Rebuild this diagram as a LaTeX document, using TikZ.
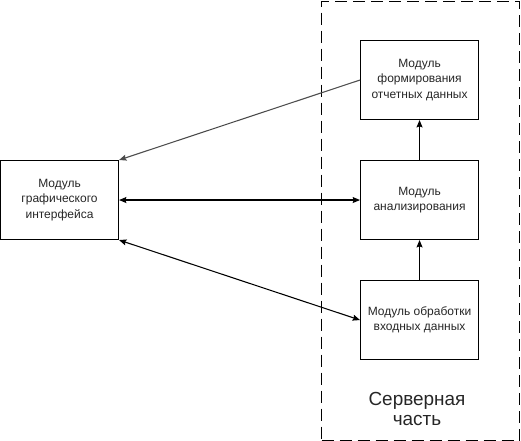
\documentclass[tikz,border=0pt]{standalone}
\usepackage{fontspec}
\setmainfont{Liberation Sans}
\usetikzlibrary{arrows.meta}
\begin{document}
\begin{tikzpicture}[x=0.75pt,y=-0.75pt,
  box/.style={draw,line width=0.8pt,minimum width=88.5pt,minimum height=59.25pt,inner sep=0pt,
    align=center,font=\fontsize{9}{11.6}\selectfont,anchor=north west,text=black!85},
  conn/.style={line width=0.8pt,-{Stealth[length=5.5pt,width=4.5pt,inset=0.8pt]}},
  biconn/.style={line width=0.8pt,{Stealth[length=5.5pt,width=4.5pt,inset=0.8pt]}-{Stealth[length=5.5pt,width=4.5pt,inset=0.8pt]}}]
\useasboundingbox (0,0) rectangle (521,441);
\node[draw,dashed,dash pattern=on 9pt off 4.5pt,line width=0.8pt,minimum width=148.5pt,minimum height=329.25pt,inner sep=0pt,anchor=north west] (srv) at (321,1) {};
\node[box] (gui) at (0,160) {Модуль\\графического\\интерфейса};
\node[box] (rep) at (360,40) {Модуль\\формирования\\отчетных данных};
\node[box] (ana) at (360,160) {Модуль\\анализирования};
\node[box] (inp) at (360,280) {Модуль обработки\\входных данных};
\node[align=center,font=\fontsize{14.2}{15.5}\selectfont,text=black!85] (lbl) at (417,409) {Серверная\\часть};
\draw[conn,draw=black!70] (rep.west) -- (gui.north east);
\draw[biconn] (gui.east) -- (ana.west);
\draw[biconn] (gui.south east) -- (inp.west);
\draw[conn] (inp.north) -- (ana.south);
\draw[conn] (ana.north) -- (rep.south);
\end{tikzpicture}
\end{document}
